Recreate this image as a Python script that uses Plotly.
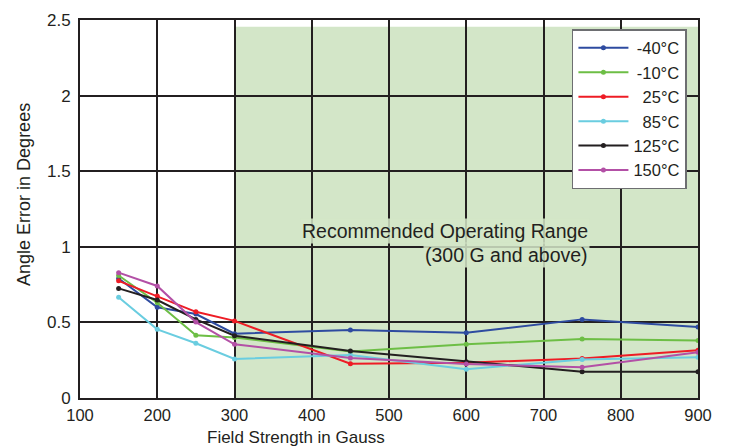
import plotly.graph_objects as go

# field strength (G) and angle error (deg) per temperature
field = [150, 200, 250, 300, 450, 600, 750, 900]
err_m40 = [0.79, 0.60, 0.555, 0.425, 0.45, 0.432, 0.52, 0.47]
err_m10 = [0.81, 0.63, 0.415, 0.40, 0.308, 0.355, 0.39, 0.38]
err_25 = [0.775, 0.675, 0.57, 0.51, 0.227, 0.233, 0.262, 0.315]
err_85 = [0.666, 0.454, 0.362, 0.258, 0.284, 0.19, 0.254, 0.269]
err_125 = [0.725, 0.648, 0.52, 0.412, 0.311, 0.24, 0.174, 0.174]
err_150 = [0.829, 0.741, 0.502, 0.355, 0.265, 0.225, 0.203, 0.302]

labels = ["\u2009-40°C", "\u2009-10°C", "\u200725°C", "\u200785°C", "125°C", "150°C"]
colors = ["#2E4BA0", "#6DBE45", "#EE1C25", "#6ACDE0", "#231F20", "#B350A6"]
series = [err_m40, err_m10, err_25, err_85, err_125, err_150]

INK = "#231F20"
FONT = "Liberation Sans, Arial, sans-serif"

fig = go.Figure()

for name, vals, c in zip(labels, series, colors):
    fig.add_trace(go.Scatter(
        x=field, y=vals, name=name, mode="lines+markers",
        line=dict(color=c, width=2),
        marker=dict(color=c, size=5),
    ))

# recommended operating range shading
fig.add_shape(type="rect", x0=300, x1=900, y0=0, y1=2.455,
              fillcolor="#D3E6C8", line_width=0, layer="below")

note_bg = "rgba(211,230,200,0.85)"
fig.add_annotation(x=760, y=1.104, xref="x", yref="y", xanchor="right",
                   text="Recommended Operating Range", showarrow=False,
                   font=dict(family=FONT, size=19.5, color=INK),
                   bgcolor=note_bg, borderpad=1)
fig.add_annotation(x=760, y=0.946, xref="x", yref="y", xanchor="right",
                   text="(300 G and above)", showarrow=False,
                   font=dict(family=FONT, size=19.5, color=INK),
                   bgcolor=note_bg, borderpad=1)

# axis titles placed by hand
fig.add_annotation(x=380, y=0, xref="x", yref="paper", yshift=-39,
                   xanchor="center", yanchor="middle",
                   text="Field Strength in Gauss", showarrow=False,
                   font=dict(family=FONT, size=17, color=INK))
fig.add_annotation(x=0, y=1.343, xref="paper", yref="y", xshift=-56,
                   xanchor="center", yanchor="middle",
                   text="Angle Error in Degrees", showarrow=False, textangle=-90,
                   font=dict(family=FONT, size=18, color=INK))

fig.update_xaxes(
    range=[100, 900], dtick=100, tick0=100,
    showgrid=True, gridcolor=INK, gridwidth=1.5,
    showline=True, linecolor=INK, linewidth=2, mirror=True,
    ticks="", ticklabelstandoff=1,
    tickfont=dict(family=FONT, size=16.5, color=INK),
    zeroline=False,
)
fig.update_yaxes(
    range=[0, 2.5], dtick=0.5,
    showgrid=True, gridcolor=INK, gridwidth=1.5,
    showline=True, linecolor=INK, linewidth=2, mirror=True,
    ticks="", ticklabelstandoff=4,
    tickfont=dict(family=FONT, size=17, color=INK),
    zeroline=False,
)

fig.update_layout(
    width=729, height=448,
    margin=dict(l=80, r=31, t=20, b=50),
    plot_bgcolor="white", paper_bgcolor="white",
    font=dict(family=FONT, color=INK),
    legend=dict(
        x=0.796, y=0.976, xanchor="left", yanchor="top",
        bgcolor="white", bordercolor="#6D6E71", borderwidth=1.5,
        font=dict(family=FONT, size=16.5, color=INK),
        tracegroupgap=0, itemwidth=50,
    ),
)

fig.write_html("out.html", config={"displayModeBar": False},
               post_script="document.body.style.margin='0';")
